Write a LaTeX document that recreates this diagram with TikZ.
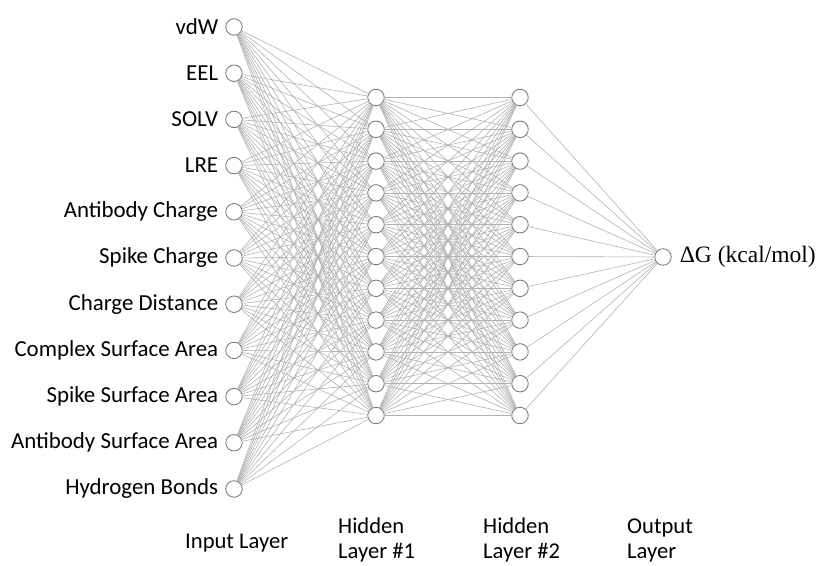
\documentclass[tikz,border=0pt]{standalone}
\usepackage{fontspec}
\setmainfont{Liberation Serif}
\newfontfamily\calib{Carlito}
\usetikzlibrary{positioning}

\begin{document}
\begin{tikzpicture}[x=1pt, y=-1pt,
    neuron/.style={circle, draw=black!55, fill=white, minimum size=16.5pt, inner sep=0pt, line width=0.8pt},
    link/.style={draw=black!30, line width=0.6pt},
    feat/.style={font=\calib\fontsize{22.9}{26}\selectfont, inner sep=0pt},
    title/.style={font=\calib\fontsize{22.6}{25}\selectfont, align=left, inner sep=0pt}]
    \useasboundingbox (0,0) rectangle (816,565);
    % input features
    \foreach \lab [count=\i] in {vdW, EEL, SOLV, LRE, Antibody Charge, Spike Charge, Charge Distance,
        Complex Surface Area, Spike Surface Area, Antibody Surface Area, Hydrogen Bonds} {
      \node (in\i) [neuron] at (234, {27+46.2*(\i-1)}) {};
      \node (lab\i) [feat, left=7pt of in\i] {\lab};
    }
    % hidden layers
    \foreach \i in {1,...,11} {
      \node (hA\i) [neuron] at (376, {97.5+31.8*(\i-1)}) {};
      \node (hB\i) [neuron] at (520, {97.5+31.8*(\i-1)}) {};
    }
    \node (out) [neuron] at (663, 257) {};
    \node (dG) [right=8pt of out, inner sep=0pt, font=\fontsize{23.5}{26}\selectfont] {ΔG (kcal/mol)};
    % connections
    \foreach \i in {1,...,11} {
      \foreach \j in {1,...,11} {
        \draw[link] (in\i) -- (hA\j);
        \draw[link] (hA\i) -- (hB\j);
      }
      \draw[link] (hB\i) -- (out);
    }
    % layer titles
    \node (tIn) [title, anchor=west] at (185, 543) {Input Layer};
    \node (tA) [title, anchor=west] at (338, 540) {Hidden\\Layer \#1};
    \node (tB) [title, anchor=west] at (483, 540) {Hidden\\Layer \#2};
    \node (tOut) [title, anchor=west] at (627, 540) {Output\\Layer};
\end{tikzpicture}
\end{document}
